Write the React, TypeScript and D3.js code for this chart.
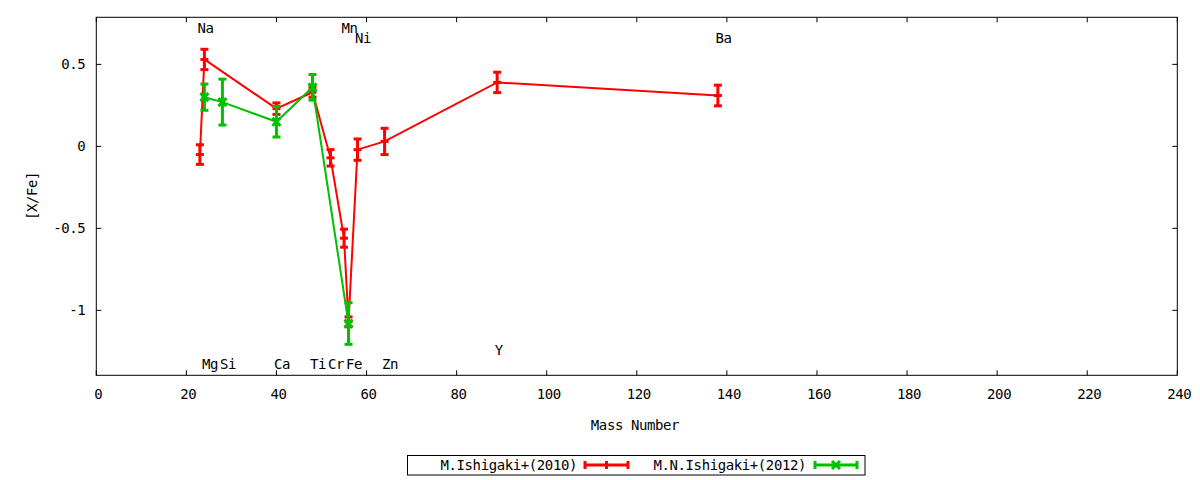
import React, { useRef, useEffect } from 'react';
import * as d3 from 'd3';

// M.Ishigaki+(2010)
const massRed = [23, 24, 40, 48, 52, 55, 56, 58, 64, 89, 138];
const xfeRed = [-0.05, 0.53, 0.23, 0.33, -0.07, -0.56, -1.07, -0.02, 0.03, 0.39, 0.31];
const errRed = [0.06, 0.062, 0.035, 0.03, 0.05, 0.055, 0.03, 0.065, 0.08, 0.062, 0.063];

// M.N.Ishigaki+(2012)
const massGreen = [24, 28, 40, 48, 56];
const xfeGreen = [0.3, 0.27, 0.15, 0.36, -1.08];
const errGreen = [0.08, 0.14, 0.093, 0.078, 0.127];

// element labels
const labelNames = ['Na', 'Mn', 'Ni', 'Ba', 'Mg', 'Si', 'Ca', 'Ti', 'Cr', 'Fe', 'Zn', 'Y'];
const labelMass = [23, 55, 58, 138, 24, 28, 40, 48, 52, 56, 64, 89];
const labelY = [0.72, 0.72, 0.66, 0.66, -1.33, -1.33, -1.33, -1.33, -1.33, -1.33, -1.33, -1.24];

const xTicks = [0, 20, 40, 60, 80, 100, 120, 140, 160, 180, 200, 220, 240];
const yTicks = [0.5, 0, -0.5, -1];
const yTickLabels = ['0.5', '0', '-0.5', '-1'];

const seriesNames = ['M.Ishigaki+(2010)', 'M.N.Ishigaki+(2012)'];
const seriesColors = ['#ff0000', '#00c000'];

const width = 1200;
const height = 480;
const font = '"DejaVu Sans Mono", monospace';
const fontSize = 14;

const App: React.FC = () => {
  const ref = useRef<SVGSVGElement>(null);
  const margin = { top: 17.3, right: 22.7, bottom: 104.7, left: 96.3 };

  useEffect(() => {
    if (!ref.current) {
      return;
    }
    const svg = d3.select(ref.current);
    svg.selectAll('*').remove();

    const x = d3.scaleLinear()
      .domain([0, 240])
      .range([margin.left, width - margin.right]);
    const y = d3.scaleLinear()
      .domain([-1.396, 0.787])
      .range([height - margin.bottom, margin.top]);

    const x0 = x.range()[0], x1 = x.range()[1];
    const y0 = y.range()[0], y1 = y.range()[1];
    const tick = 5;

    // ticks (inward, mirrored)
    const tg = svg.append('g').attr('stroke', '#000').attr('stroke-width', 1);
    xTicks.forEach(t => {
      tg.append('line').attr('x1', x(t)).attr('x2', x(t)).attr('y1', y0).attr('y2', y0 - tick);
      tg.append('line').attr('x1', x(t)).attr('x2', x(t)).attr('y1', y1).attr('y2', y1 + tick);
    });
    yTicks.forEach(t => {
      tg.append('line').attr('x1', x0).attr('x2', x0 + tick).attr('y1', y(t)).attr('y2', y(t));
      tg.append('line').attr('x1', x1).attr('x2', x1 - tick).attr('y1', y(t)).attr('y2', y(t));
    });

    const txt = svg.append('g')
      .attr('font-family', font)
      .attr('font-size', fontSize)
      .attr('letter-spacing', -0.4)
      .attr('fill', '#000');

    xTicks.forEach(t => {
      txt.append('text')
        .attr('x', x(t) + 2).attr('y', 399)
        .attr('text-anchor', 'middle')
        .text(String(t));
    });
    yTicks.forEach((t, i) => {
      txt.append('text')
        .attr('x', x0 - 11).attr('y', y(t) + 5)
        .attr('text-anchor', 'end')
        .text(yTickLabels[i]);
    });

    txt.append('text')
      .attr('x', 635).attr('y', 430)
      .attr('text-anchor', 'middle')
      .text('Mass Number');
    txt.append('text')
      .attr('transform', `translate(37,196) rotate(-90)`)
      .attr('text-anchor', 'middle')
      .text('[X/Fe]');

    // element labels
    labelNames.forEach((n, i) => {
      txt.append('text')
        .attr('x', x(labelMass[i]) - 2.5)
        .attr('y', y(labelY[i]) + 5)
        .attr('text-anchor', 'start')
        .text(n);
    });

    const line = d3.line<[number, number]>()
      .x(d => x(d[0]))
      .y(d => y(d[1]));

    const drawSeries = (mass: number[], val: number[], err: number[], color: string, cross: boolean) => {
      const g = svg.append('g').attr('stroke', color).attr('fill', 'none');
      g.append('path')
        .datum(mass.map((m, i) => [m, val[i]] as [number, number]))
        .attr('stroke-width', 2)
        .attr('d', line);
      mass.forEach((m, i) => {
        const px = x(m);
        const top = y(val[i] + err[i]);
        const bot = y(val[i] - err[i]);
        const py = y(val[i]);
        g.append('line').attr('x1', px).attr('x2', px).attr('y1', top).attr('y2', bot).attr('stroke-width', 3);
        g.append('line').attr('x1', px - 4).attr('x2', px + 4).attr('y1', top).attr('y2', top).attr('stroke-width', 3);
        g.append('line').attr('x1', px - 4).attr('x2', px + 4).attr('y1', bot).attr('y2', bot).attr('stroke-width', 3);
        if (cross) {
          g.append('path')
            .attr('d', `M${px - 4},${py - 4}L${px + 4},${py + 4}M${px - 4},${py + 4}L${px + 4},${py - 4}`)
            .attr('stroke-width', 3);
        } else {
          g.append('line').attr('x1', px - 4).attr('x2', px + 4).attr('y1', py).attr('y2', py).attr('stroke-width', 3);
        }
      });
    };

    drawSeries(massRed, xfeRed, errRed, seriesColors[0], false);
    drawSeries(massGreen, xfeGreen, errGreen, seriesColors[1], true);

    // frame
    svg.append('rect')
      .attr('x', x0).attr('y', y1)
      .attr('width', x1 - x0).attr('height', y0 - y1)
      .attr('fill', 'none').attr('stroke', '#000').attr('stroke-width', 1);

    // legend
    const lg = svg.append('g');
    lg.append('rect')
      .attr('x', 407.5).attr('y', 455.5)
      .attr('width', 457.5).attr('height', 19.5)
      .attr('fill', 'none').attr('stroke', '#000').attr('stroke-width', 1);
    const legendTextEnd = [577, 806];
    const legendSample = [[585, 628], [815, 857]];
    seriesNames.forEach((n, i) => {
      lg.append('text')
        .attr('x', legendTextEnd[i]).attr('y', 470)
        .attr('text-anchor', 'end')
        .attr('font-family', font)
        .attr('font-size', fontSize)
        .attr('letter-spacing', -0.4)
        .text(n);
      const [a, b] = legendSample[i];
      const c = (a + b) / 2;
      const ly = 465;
      const s = lg.append('g').attr('stroke', seriesColors[i]).attr('stroke-width', 3).attr('fill', 'none');
      s.append('line').attr('x1', a).attr('x2', b).attr('y1', ly).attr('y2', ly);
      s.append('line').attr('x1', a).attr('x2', a).attr('y1', ly - 4).attr('y2', ly + 4);
      s.append('line').attr('x1', b).attr('x2', b).attr('y1', ly - 4).attr('y2', ly + 4);
      if (i === 1) {
        s.append('path').attr('d', `M${c - 4},${ly - 4}L${c + 4},${ly + 4}M${c - 4},${ly + 4}L${c + 4},${ly - 4}`);
      } else {
        s.append('line').attr('x1', c).attr('x2', c).attr('y1', ly - 4).attr('y2', ly + 4);
      }
    });
  }, []);

  return (
    <svg
      ref={ref}
      width={width}
      height={height}
      viewBox={`0 0 ${width} ${height}`}
      style={{ position: 'absolute', left: 0, top: 0, background: '#fff' }}
    ></svg>
  );
};

export default App;
